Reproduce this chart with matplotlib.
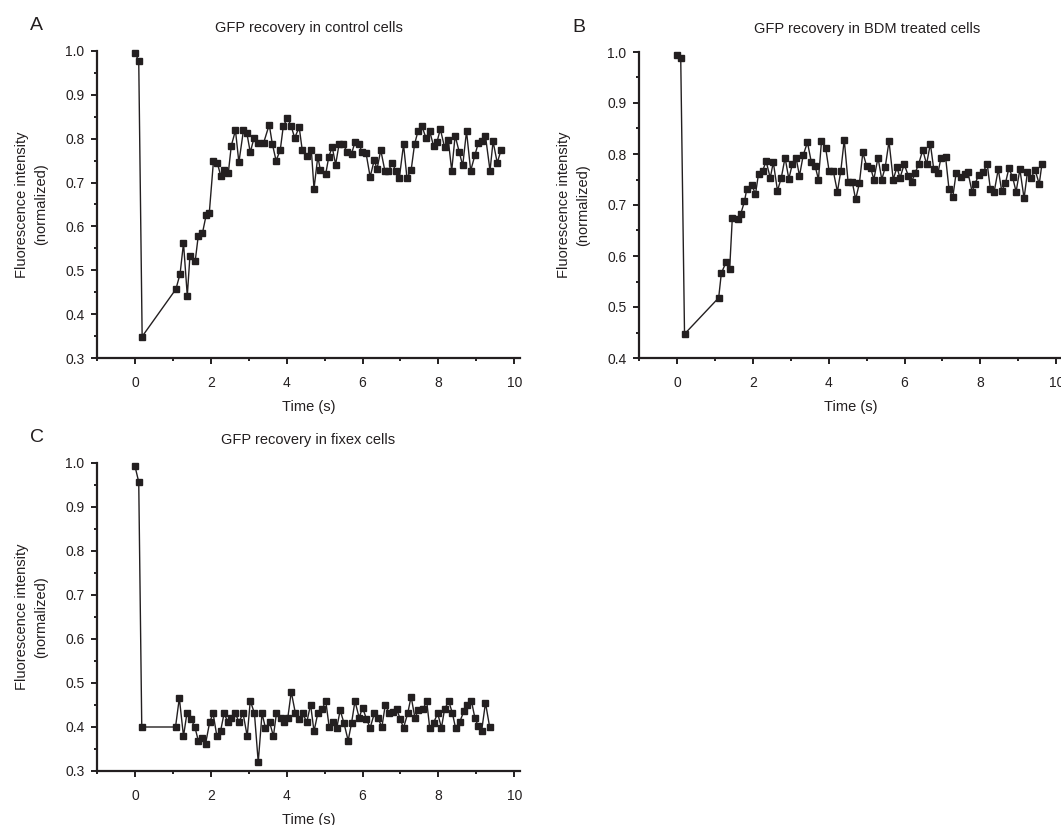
import numpy as np
import matplotlib
matplotlib.use('Agg')
import matplotlib.pyplot as plt
from matplotlib.ticker import MultipleLocator

plt.rcParams['font.family'] = ['Liberation Sans', 'DejaVu Sans']

# data
ctrl_t = [0.0, 0.1, 0.19, 1.08, 1.19, 1.28, 1.38, 1.45, 1.59, 1.67,
          1.78, 1.88, 1.96, 2.07, 2.17, 2.26, 2.36, 2.46, 2.54, 2.65,
          2.74, 2.86, 2.95, 3.04, 3.14, 3.25, 3.39, 3.54, 3.62, 3.72,
          3.83, 3.91, 4.02, 4.12, 4.21, 4.33, 4.41, 4.53, 4.65, 4.72,
          4.82, 4.89, 5.03, 5.11, 5.2, 5.29, 5.38, 5.49, 5.6, 5.71,
          5.8, 5.91, 5.98, 6.09, 6.2, 6.31, 6.38, 6.48, 6.59, 6.68,
          6.78, 6.88, 6.97, 7.08, 7.17, 7.28, 7.37, 7.46, 7.56, 7.67,
          7.77, 7.87, 7.96, 8.05, 8.16, 8.26, 8.35, 8.44, 8.55, 8.64,
          8.74, 8.85, 8.96, 9.05, 9.14, 9.24, 9.36, 9.44, 9.55, 9.65]
ctrl_v = [0.995, 0.978, 0.349, 0.457, 0.492, 0.562, 0.442, 0.533, 0.522, 0.579,
          0.585, 0.627, 0.631, 0.749, 0.745, 0.716, 0.728, 0.721, 0.784, 0.819,
          0.746, 0.819, 0.813, 0.769, 0.802, 0.79, 0.79, 0.832, 0.789, 0.75,
          0.774, 0.828, 0.848, 0.828, 0.802, 0.826, 0.774, 0.76, 0.774, 0.686,
          0.759, 0.728, 0.72, 0.759, 0.781, 0.741, 0.787, 0.787, 0.769, 0.766,
          0.792, 0.789, 0.769, 0.768, 0.713, 0.752, 0.73, 0.774, 0.726, 0.726,
          0.745, 0.726, 0.711, 0.787, 0.711, 0.728, 0.787, 0.817, 0.83, 0.802,
          0.817, 0.784, 0.792, 0.822, 0.781, 0.797, 0.727, 0.807, 0.769, 0.739,
          0.817, 0.727, 0.762, 0.79, 0.794, 0.806, 0.727, 0.794, 0.745, 0.774]

bdm_t = [0.0, 0.1, 0.2, 1.1, 1.17, 1.3, 1.39, 1.46, 1.6, 1.68,
         1.78, 1.84, 1.97, 2.07, 2.15, 2.26, 2.35, 2.46, 2.54, 2.65,
         2.75, 2.85, 2.95, 3.04, 3.14, 3.23, 3.33, 3.44, 3.54, 3.64,
         3.73, 3.81, 3.92, 4.01, 4.12, 4.23, 4.32, 4.41, 4.51, 4.62,
         4.71, 4.81, 4.9, 5.0, 5.11, 5.19, 5.3, 5.4, 5.49, 5.59,
         5.7, 5.8, 5.88, 5.99, 6.1, 6.19, 6.28, 6.37, 6.48, 6.58,
         6.68, 6.77, 6.88, 6.96, 7.08, 7.17, 7.27, 7.36, 7.48, 7.58,
         7.67, 7.78, 7.85, 7.96, 8.07, 8.18, 8.26, 8.36, 8.47, 8.56,
         8.66, 8.75, 8.85, 8.94, 9.04, 9.15, 9.24, 9.33, 9.44, 9.55,
         9.62]
bdm_v = [0.995, 0.988, 0.447, 0.518, 0.566, 0.589, 0.575, 0.675, 0.672, 0.682,
         0.707, 0.731, 0.74, 0.721, 0.761, 0.767, 0.786, 0.753, 0.784, 0.728,
         0.753, 0.793, 0.751, 0.78, 0.793, 0.757, 0.798, 0.823, 0.785, 0.777,
         0.75, 0.825, 0.812, 0.767, 0.767, 0.726, 0.767, 0.828, 0.746, 0.746,
         0.711, 0.743, 0.803, 0.776, 0.772, 0.75, 0.793, 0.75, 0.774, 0.825,
         0.75, 0.774, 0.753, 0.78, 0.757, 0.746, 0.763, 0.78, 0.808, 0.78,
         0.82, 0.77, 0.763, 0.792, 0.795, 0.732, 0.715, 0.763, 0.754, 0.76,
         0.764, 0.726, 0.741, 0.759, 0.765, 0.78, 0.732, 0.725, 0.77, 0.728,
         0.743, 0.772, 0.754, 0.726, 0.77, 0.713, 0.765, 0.752, 0.769, 0.741,
         0.78]

fix_t = [0.0, 0.1, 0.18, 1.07, 1.17, 1.28, 1.37, 1.47, 1.58, 1.67,
         1.77, 1.86, 1.97, 2.06, 2.16, 2.26, 2.35, 2.45, 2.54, 2.65,
         2.74, 2.85, 2.96, 3.04, 3.15, 3.25, 3.35, 3.44, 3.55, 3.65,
         3.73, 3.85, 3.94, 4.03, 4.12, 4.23, 4.33, 4.42, 4.53, 4.63,
         4.72, 4.82, 4.93, 5.03, 5.12, 5.22, 5.32, 5.41, 5.51, 5.62,
         5.71, 5.8, 5.91, 6.0, 6.1, 6.2, 6.31, 6.4, 6.51, 6.6,
         6.7, 6.79, 6.9, 6.99, 7.08, 7.19, 7.28, 7.38, 7.47, 7.59,
         7.69, 7.77, 7.87, 7.98, 8.08, 8.16, 8.27, 8.37, 8.45, 8.56,
         8.67, 8.75, 8.87, 8.96, 9.05, 9.14, 9.24, 9.35]
fix_v = [0.993, 0.957, 0.4, 0.4, 0.466, 0.379, 0.431, 0.419, 0.4, 0.369,
         0.375, 0.361, 0.411, 0.431, 0.379, 0.392, 0.431, 0.411, 0.421, 0.431,
         0.411, 0.431, 0.379, 0.46, 0.431, 0.32, 0.431, 0.398, 0.411, 0.379,
         0.431, 0.421, 0.411, 0.421, 0.48, 0.431, 0.419, 0.431, 0.411, 0.451,
         0.39, 0.431, 0.44, 0.459, 0.4, 0.411, 0.398, 0.438, 0.409, 0.369,
         0.409, 0.459, 0.421, 0.444, 0.419, 0.398, 0.431, 0.421, 0.4, 0.451,
         0.431, 0.434, 0.44, 0.419, 0.398, 0.431, 0.469, 0.421, 0.438, 0.44,
         0.459, 0.398, 0.409, 0.431, 0.398, 0.44, 0.459, 0.431, 0.398, 0.411,
         0.436, 0.451, 0.459, 0.421, 0.402, 0.392, 0.455, 0.4]

ink = '#231f20'
W, H = 1061, 825

fig = plt.figure(figsize=(W/100, H/100), dpi=100)

def make_axes(left_px, top_px, height_px, ymin):
    ax = fig.add_axes([left_px/W, 1 - (top_px + height_px)/H, 423/W, height_px/H])
    ax.set_xlim(-1, 10.15)
    ax.set_ylim(ymin, 1.0)
    ax.xaxis.set_major_locator(MultipleLocator(2))
    ax.xaxis.set_minor_locator(MultipleLocator(1))
    ax.yaxis.set_major_locator(MultipleLocator(0.1))
    ax.yaxis.set_minor_locator(MultipleLocator(0.05))
    ax.yaxis.set_major_formatter(plt.FormatStrFormatter('%.1f'))
    for side in ['top', 'right']:
        ax.spines[side].set_visible(False)
    for side in ['left', 'bottom']:
        ax.spines[side].set_linewidth(1.6)
        ax.spines[side].set_color(ink)
    ax.tick_params(which='both', direction='out', width=1.4, color=ink,
                   labelsize=10, labelcolor=ink)
    ax.tick_params(which='major', length=4)
    ax.tick_params(which='minor', length=2.5)
    ax.tick_params(axis='x', which='major', pad=9)
    ax.tick_params(axis='y', which='major', pad=5)
    ax.set_xlabel('Time (s)', fontsize=10.5, color=ink, labelpad=7)
    ax.set_ylabel('Fluorescence intensity\n(normalized)', fontsize=10.5,
                  color=ink, labelpad=12, linespacing=1.5)
    return ax

def draw(ax, t, v, title, letter, tx=0.5):
    ax.plot(t, v, '-s', color=ink, lw=1.0, ms=5, clip_on=False)
    ax.set_title(title, fontsize=10.5, color=ink, pad=14, x=tx)
    pos = ax.get_position()
    fig.text(pos.x0 - 67/W, pos.y1 + 25/H, letter, fontsize=14, color=ink,
             ha='left', va='center')

axA = make_axes(97, 51, 307, 0.3)
draw(axA, ctrl_t, ctrl_v, 'GFP recovery in control cells', 'A')

axB = make_axes(639, 52, 306, 0.4)
draw(axB, bdm_t, bdm_v, 'GFP recovery in BDM treated cells', 'B', tx=0.54)

axC = make_axes(97, 463, 308, 0.3)
draw(axC, fix_t, fix_v, 'GFP recovery in fixex cells', 'C')

fig.savefig('out.png', dpi=100)
